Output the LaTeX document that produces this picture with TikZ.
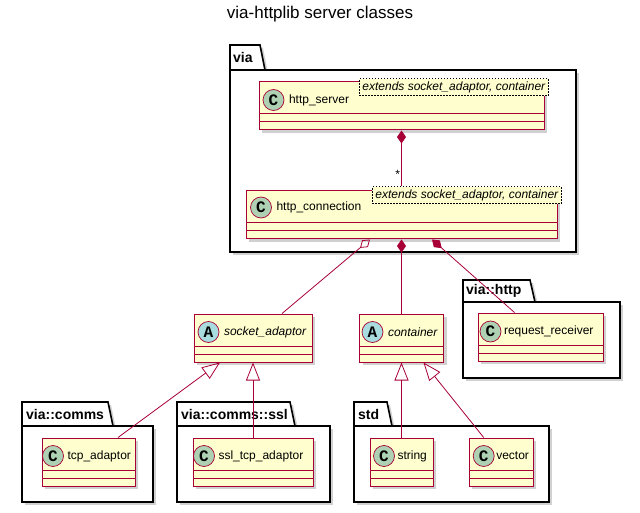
\documentclass[tikz,border=0pt]{standalone}
\usepackage{fontspec}
\setmainfont{Liberation Sans}
\setmonofont{Liberation Mono}
\usetikzlibrary{shadows,arrows.meta,positioning,calc}
\definecolor{umlred}{HTML}{A80036}
\definecolor{classfill}{HTML}{FEFECE}
\definecolor{cgreen}{HTML}{ADD1B2}
\definecolor{ablue}{HTML}{A9DCDF}

\begin{document}
\begin{tikzpicture}[x=1pt, y=-1pt,
    pkg/.style={draw=black, line width=1.6pt, fill=white,
      drop shadow={shadow xshift=3pt, shadow yshift=-3pt, opacity=0.3, fill=black!60}},
    pkgname/.style={font=\bfseries\fontsize{14}{16}\selectfont, anchor=west, inner sep=0pt},
    classbox/.style={draw=umlred, line width=1pt, fill=classfill, inner sep=0pt, minimum height=48pt,
      drop shadow={shadow xshift=3pt, shadow yshift=-3pt, opacity=0.3, fill=black!60},
      path picture={
        \draw[umlred, line width=1pt] ([yshift=8pt]path picture bounding box.south west) -- ([yshift=8pt]path picture bounding box.south east);
        \draw[umlred, line width=1pt] ([yshift=16pt]path picture bounding box.south west) -- ([yshift=16pt]path picture bounding box.south east);
      }},
    badge/.style={circle, draw=umlred, line width=0.7pt, minimum size=21pt, inner sep=0pt,
      font=\ttfamily\bfseries\fontsize{16}{16}\selectfont},
    cname/.style={font=\fontsize{12}{14}\selectfont, inner sep=0.5pt},
    stereo/.style={draw=black, line width=0.5pt, dash pattern=on 1.5pt off 1.5pt, fill=classfill,
      font=\itshape\fontsize{12}{14}\selectfont, inner xsep=3pt, inner ysep=0pt, minimum height=17pt},
    umlline/.style={draw=umlred, line width=0.8pt},
    comp/.style={umlline, {Diamond[length=13pt, width=9pt]}-},
    agg/.style={umlline, {Diamond[open, length=13pt, width=9pt]}-},
    gen/.style={umlline, -{Triangle[open, length=18pt, width=14pt]}}]
  \useasboundingbox (0,0) rectangle (640,513);

  \node[font=\fontsize{17}{20}\selectfont] (title) at (320,14) {via-httplib server classes};

  % packages
  \draw[pkg] (230,70) -- (230,45) -- (260,45) -- (265,70) -- cycle;
  \draw[pkg] (230,70) rectangle (576,252);
  \node[pkgname] (pvia) at (233,57.5) {via};

  \draw[pkg] (463,302) -- (463,280) -- (530,280) -- (535,302) -- cycle;
  \draw[pkg] (463,302) rectangle (620,378);
  \node[pkgname] (phttp) at (466,291) {via::http};

  \draw[pkg] (22,426) -- (22,402) -- (108,402) -- (113,426) -- cycle;
  \draw[pkg] (22,426) rectangle (153,502);
  \node[pkgname] (pcomms) at (26,414) {via::comms};

  \draw[pkg] (177,426) -- (177,402) -- (290,402) -- (295,426) -- cycle;
  \draw[pkg] (177,426) rectangle (330,502);
  \node[pkgname] (pssl) at (181,414) {via::comms::ssl};

  \draw[pkg] (354,426) -- (354,402) -- (387,402) -- (392,426) -- cycle;
  \draw[pkg] (354,426) rectangle (549,502);
  \node[pkgname] (pstd) at (358,414) {std};

  % classes
  \node[classbox, minimum width=285pt] (srv) at (401.5,106) {};
  \node[badge, fill=cgreen] (srvC) at (273.5,100) {C};
  \node[cname, right=4pt of srvC] (srvname) {http\_server};
  \node[stereo, anchor=north east] (srvst) at ([xshift=4pt,yshift=3pt]srv.north east) {extends socket\_adaptor, container};

  \node[classbox, minimum width=311pt] (conn) at (401.5,215) {};
  \node[badge, fill=cgreen] (connC) at (261,207.5) {C};
  \node[cname, right=4pt of connC] (connname) {http\_connection};
  \node[stereo, anchor=north east] (connst) at ([xshift=4pt,yshift=4pt]conn.north east) {extends socket\_adaptor, container};

  \node[classbox, minimum width=118pt] (sock) at (253,338) {};
  \node[badge, fill=ablue] (sockA) at (208.5,332) {A};
  \node[cname, font=\itshape\fontsize{12}{14}\selectfont, right=4pt of sockA] (sockname) {socket\_adaptor};

  \node[classbox, minimum width=84pt] (cont) at (401.5,338) {};
  \node[badge, fill=ablue] (contA) at (372.5,332) {A};
  \node[cname, font=\itshape\fontsize{12}{14}\selectfont, right=4pt of contA] (contname) {container};

  \node[classbox, minimum width=125pt] (recv) at (540.5,337) {};
  \node[badge, fill=cgreen] (recvC) at (490.5,331.5) {C};
  \node[cname, right=2pt of recvC] (recvname) {request\_receiver};

  \node[classbox, minimum width=93pt] (tcp) at (88.5,462) {};
  \node[badge, fill=cgreen] (tcpC) at (53,456) {C};
  \node[cname, right=3pt of tcpC] (tcpname) {tcp\_adaptor};

  \node[classbox, minimum width=120pt] (ssl) at (253,462) {};
  \node[badge, fill=cgreen] (sslC) at (204,456) {C};
  \node[cname, right=3pt of sslC] (sslname) {ssl\_tcp\_adaptor};

  \node[classbox, minimum width=63pt] (str) at (401.5,462) {};
  \node[badge, fill=cgreen] (strC) at (384,456) {C};
  \node[cname, right=2pt of strC] (strname) {string};

  \node[classbox, minimum width=64pt] (vec) at (501,462) {};
  \node[badge, fill=cgreen] (vecC) at (483.7,456) {C};
  \node[cname, right=1pt of vecC] (vecname) {vector};

  % compositions and aggregation
  \draw[comp] (srv.south) -- (srv.south |- connst.north)
    node[pos=0.79, left=1pt, inner sep=0pt, font=\fontsize{12}{14}\selectfont] (many) {*};
  \draw[agg] ([xshift=-31.5pt]conn.south) -- ([xshift=29pt]sock.north);
  \draw[comp] (conn.south) -- (cont.north);
  \draw[comp] ([xshift=30.5pt]conn.south) -- ([xshift=-26pt]recv.north);

  % inheritance
  \draw[gen] ([xshift=29.5pt]tcp.north) -- ([xshift=-33pt]sock.south);
  \draw[gen] (ssl.north) -- (sock.south);
  \draw[gen] (str.north) -- (cont.south);
  \draw[gen] ([xshift=-17.3pt]vec.north) -- ([xshift=22pt]cont.south);
\end{tikzpicture}
\end{document}
